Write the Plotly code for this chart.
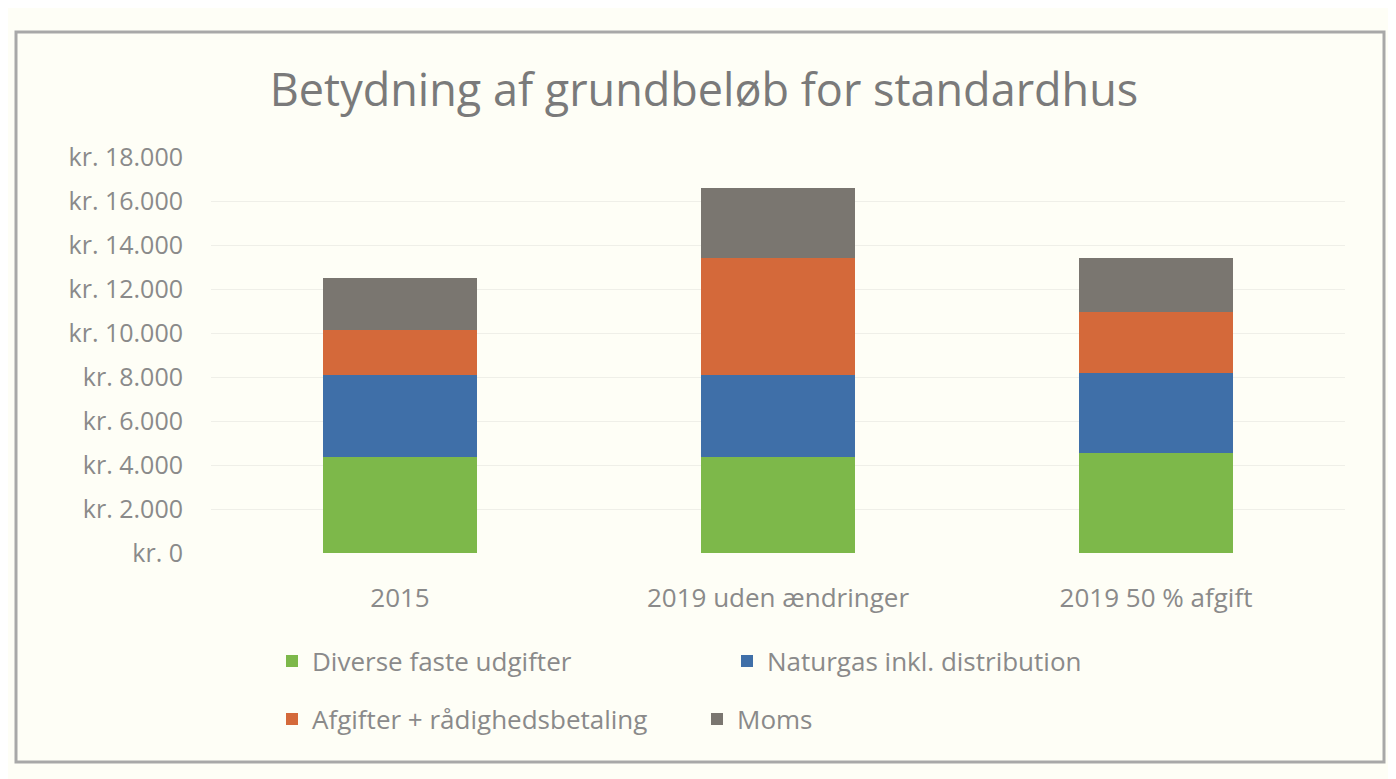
import plotly.graph_objects as go

categories = ["2015", "2019 uden ændringer", "2019 50 % afgift"]
series_names = ["Diverse faste udgifter", "Naturgas inkl. distribution",
                "Afgifter + rådighedsbetaling", "Moms"]
diverse = [4380, 4380, 4550]
naturgas = [3710, 3710, 3620]
afgifter = [2050, 5310, 2800]
moms = [2370, 3180, 2430]
colors = ["#7db84a", "#3f6fa8", "#d4693a", "#7a7670"]
tick_vals = [0, 2000, 4000, 6000, 8000, 10000, 12000, 14000, 16000, 18000]
tick_text = ["kr. 0", "kr. 2.000", "kr. 4.000", "kr. 6.000", "kr. 8.000", "kr. 10.000",
             "kr. 12.000", "kr. 14.000", "kr. 16.000", "kr. 18.000"]

FONT = "Open Sans"
OFF = 8  # page body margin
W, H = 1396 - OFF, 779 - OFF
L, R, T, B = 211 - OFF, 1345 - OFF, 157 - OFF, 553 - OFF  # plot area pixels in figure
pw, ph = R - L, B - T

def px(x):
    return (x - OFF - L) / pw

def py(y):
    return (B - (y - OFF)) / ph

fig = go.Figure()
values = [diverse, naturgas, afgifter, moms]
legend_ids = ["legend", "legend", "legend2", "legend2"]
for name, vals, col, lg in zip(series_names, values, colors, legend_ids):
    fig.add_trace(go.Bar(x=categories, y=vals, name=name, marker_color=col,
                         marker_line_width=0, legend=lg))

legend_common = dict(orientation="h", font=dict(family=FONT, size=26, color="#8a8a8a"),
                     bgcolor="rgba(0,0,0,0)", itemclick=False, traceorder="normal",
                     xanchor="left", yanchor="middle", tracegroupgap=0,
                     entrywidthmode="pixels")

fig.update_layout(
    width=W, height=H,
    margin=dict(l=L, r=W - R, t=T, b=H - B),
    paper_bgcolor="#fefef6", plot_bgcolor="#fefef6",
    barmode="stack", bargap=0.59,
    title=dict(text="Betydning af grundbeløb for standardhus", x=(704 - OFF) / W, xanchor="center",
               y=1 - (90 - OFF) / H, yanchor="middle", yref="container",
               font=dict(family=FONT, size=45, color="#7a7a7a")),
    xaxis=dict(showgrid=False, showline=False, ticks="", ticklabelstandoff=27,
               tickfont=dict(family=FONT, size=26, color="#8a8a8a")),
    yaxis=dict(range=[0, 18000], tickvals=tick_vals, ticktext=tick_text,
               showgrid=True, gridcolor="#efefe8", gridwidth=1, zeroline=False,
               showline=False, ticks="", ticklabelstandoff=27,
               tickfont=dict(family=FONT, size=25, color="#8a8a8a")),
    legend=dict(x=px(272), y=py(661), entrywidth=410, **legend_common),
    legend2=dict(x=px(272), y=py(719), entrywidth=380, **legend_common),
    showlegend=True,
    shapes=[dict(type="rect", xref="paper", yref="paper",
                 x0=px(16), x1=px(1384), y0=py(762), y1=py(32),
                 line=dict(color="#a8a8a8", width=3), fillcolor="rgba(0,0,0,0)")],
)

fig.write_html("out.html")
